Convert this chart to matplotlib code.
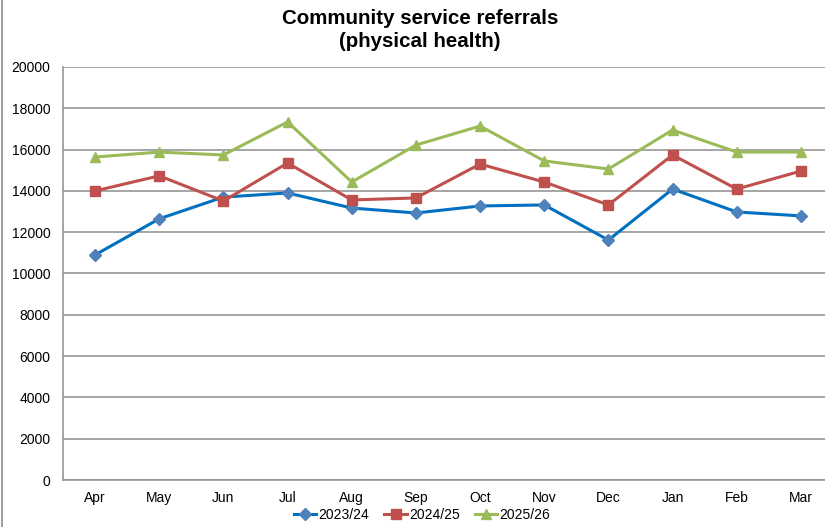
import matplotlib

matplotlib.use("Agg")

import matplotlib.pyplot as plt  # noqa: E402
from matplotlib.lines import Line2D  # noqa: E402

plt.rcParams["font.family"] = ["Liberation Sans", "DejaVu Sans"]

# --- Monthly referrals ---
MONTHS = ["Apr", "May", "Jun", "Jul", "Aug", "Sep", "Oct", "Nov", "Dec", "Jan", "Feb", "Mar"]
Y2023 = [10900, 12650, 13700, 13900, 13170, 12930, 13270, 13320, 11620, 14090, 12980, 12790]
Y2024 = [14000, 14730, 13510, 15350, 13560, 13660, 15300, 14430, 13320, 15740, 14090, 14960]
Y2025 = [15640, 15880, 15740, 17340, 14430, 16220, 17140, 15450, 15060, 16950, 15880, 15880]
SERIES = ["2023/24", "2024/25", "2025/26"]

GRID = "#969696"
TEXT = "#000000"


def main():
    fig = plt.figure(figsize=(8.25, 5.27), dpi=100)
    ax = fig.add_axes([63 / 825, 47 / 527, 770 / 825, 413 / 527])

    x = range(len(MONTHS))
    ax.plot(x, Y2023, color="#0070C0", lw=2.2, marker="D", ms=6.5,
            mfc="#4F81BD", mec="#4F81BD", label=SERIES[0], zorder=3)
    ax.plot(x, Y2024, color="#C0504D", lw=2.2, marker="s", ms=7,
            mfc="#C0504D", mec="#C0504D", label=SERIES[1], zorder=3)
    ax.plot(x, Y2025, color="#9BBB59", lw=2.2, marker="^", ms=7.5,
            mfc="#9BBB59", mec="#9BBB59", label=SERIES[2], zorder=3)

    ax.set_xlim(-0.5, len(MONTHS) - 0.5)
    ax.set_ylim(0, 20000)
    ax.set_yticks(range(0, 20001, 2000))
    ax.set_xticks(list(x))
    ax.set_xticklabels(MONTHS)
    ax.yaxis.grid(True, color=GRID, lw=1.2)
    ax.set_axisbelow(True)
    ax.tick_params(axis="both", length=0, labelsize=10, colors=TEXT)
    ax.tick_params(axis="y", pad=9)
    ax.tick_params(axis="x", pad=8)
    for side in ("top", "right"):
        ax.spines[side].set_visible(False)
    for side in ("left", "bottom"):
        ax.spines[side].set_color(GRID)
        ax.spines[side].set_linewidth(1.2)

    fig.text(420 / 825, 1 - 30 / 527, "Community service referrals\n(physical health)",
             ha="center", va="center", fontsize=14.8, fontweight="bold",
             linespacing=1.25)

    handles = [
        Line2D([], [], color="#0070C0", lw=2.2, marker="D", ms=6, mfc="#4F81BD", mec="#4F81BD"),
        Line2D([], [], color="#C0504D", lw=2.2, marker="s", ms=6.5, mfc="#C0504D", mec="#C0504D"),
        Line2D([], [], color="#9BBB59", lw=2.2, marker="^", ms=7, mfc="#9BBB59", mec="#9BBB59"),
    ]
    fig.legend(handles, SERIES, loc="center", bbox_to_anchor=(422 / 825, 1 - 515 / 527),
               ncol=3, frameon=False, fontsize=10, handlelength=1.6,
               handletextpad=0.15, columnspacing=1.1)

    # chart frame edge on the left
    fig.add_artist(Line2D([2 / 825, 2 / 825], [0, 1], transform=fig.transFigure,
                          color="#8C8C8C", lw=1.2))

    fig.savefig("out.png", dpi=100, facecolor="white")
    plt.close(fig)


if __name__ == "__main__":
    main()
